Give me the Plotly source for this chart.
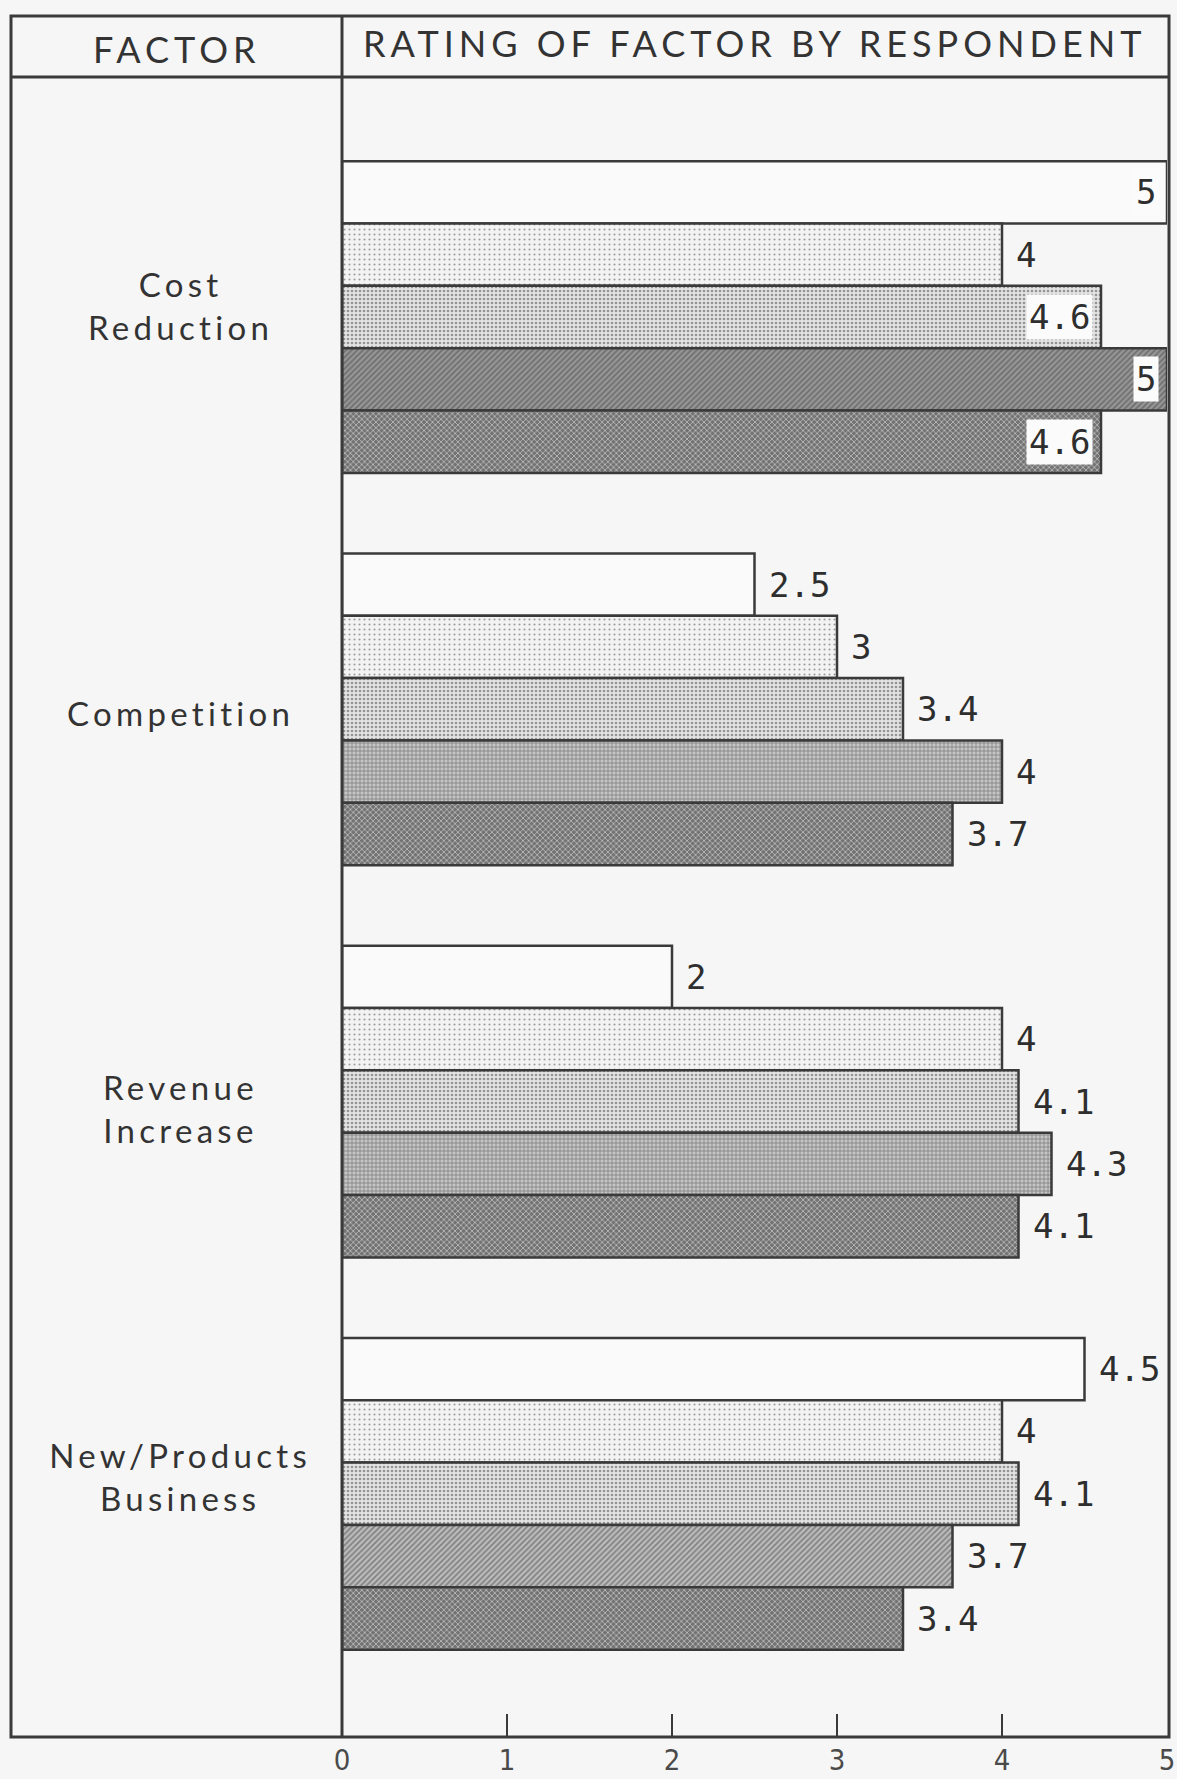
import json
import plotly.graph_objects as go

# ---- data -------------------------------------------------------------
factors = ["Cost<br>Reduction", "Competition", "Revenue<br>Increase", "New/Products<br>Business"]
respondent_names = ["Respondent 1", "Respondent 2", "Respondent 3", "Respondent 4", "Respondent 5"]
rating_r1 = [5, 2.5, 2, 4.5]
rating_r2 = [4, 3, 4, 4]
rating_r3 = [4.6, 3.4, 4.1, 4.1]
rating_r4 = [5, 4, 4.3, 3.7]
rating_r5 = [4.6, 3.7, 4.1, 3.4]
ratings = [rating_r1, rating_r2, rating_r3, rating_r4, rating_r5]
scale_ticks = [0, 1, 2, 3, 4, 5]

# ---- page geometry (pixels) -------------------------------------------
W, H = 1177, 1779
ML, MR, MT, MB = 342, 10, 77, 42
PW = W - ML - MR
PH = H - MT - MB
FRAME_L, FRAME_R, FRAME_T = 11, 1169, 16


def paper_x(p):
    return (p - ML) / PW


def paper_y(p):
    return (H - MB - p) / PH


INK = "#3a3a3a"
PAPER = "#f6f6f6"
BAR_W = 0.159          # bar thickness in group units
Y_TOP, Y_BOT = -0.612, 3.62
INSIDE_FROM = 4.6      # long bars carry their label inside the bar
LABEL_NUDGE = [12, -4, -7, 17]   # vertical tweak of factor names, px

# fill styles for the five respondents (base colour + overlaid texture)
styles = [
    dict(color=["#fafafa"] * 4, shape=[""] * 4, fg=["#fafafa"] * 4, size=4, sol=0.2),
    dict(color=["#f3f3f3"] * 4, shape=["."] * 4, fg=["#d4d4d4"] * 4, size=5, sol=0.14),
    dict(color=["#e3e3e3"] * 4, shape=["."] * 4, fg=["#959595"] * 4, size=4, sol=0.33),
    dict(color=["#969696", "#c6c6c6", "#c6c6c6", "#bbbbbb"], shape=["/", "+", "+", "/"],
         fg=["#444444", "#6a6a6a", "#6a6a6a", "#626262"], size=4, sol=0.4),
    dict(color=["#727272"] * 4, shape=["x"] * 4, fg=["#404040"] * 4, size=4, sol=0.4),
]

fig = go.Figure()
annotations = []
for j, (name, vals) in enumerate(zip(respondent_names, ratings)):
    ys = [g + (j - 2) * BAR_W for g in range(len(factors))]
    st = styles[j]
    fig.add_trace(go.Bar(
        x=vals, y=ys, orientation="h", width=BAR_W, name=name,
        marker=dict(
            color=st["color"],
            line=dict(color=INK, width=2.5),
            pattern=dict(shape=st["shape"], fgcolor=st["fg"], size=st["size"],
                         solidity=st["sol"], fillmode="overlay"),
        ),
        hoverinfo="x+name",
    ))
    for v, y in zip(vals, ys):
        inside = v >= INSIDE_FROM
        annotations.append(dict(
            x=v, y=y, xref="x", yref="y", text=f"{v:g}", showarrow=False,
            xanchor="right" if inside else "left",
            xshift=-8 if inside else 11,
            bgcolor="#fbfbfb" if inside else None,
            borderpad=2,
            font=dict(family="DejaVu Sans Mono", size=34, color="#2e2e2e"),
        ))

# spaced lettering for headings and factor names
spacing = {}
HEAD_FONT = dict(family="Lato, Open Sans, sans-serif", size=36, color="#333333")
LABEL_FONT = dict(family="Lato, Open Sans, sans-serif", size=33, color="#333333")

HEAD_SP, LABEL_SP = 5.0, 4.3
spacing[len(annotations)] = HEAD_SP
annotations.append(dict(x=paper_x(174), y=paper_y(49), xref="paper", yref="paper",
                        text="FACTOR", showarrow=False, xanchor="center", yanchor="middle",
                        xshift=HEAD_SP / 2, font=HEAD_FONT))
spacing[len(annotations)] = HEAD_SP
annotations.append(dict(x=paper_x(752), y=paper_y(43), xref="paper", yref="paper",
                        text="RATING OF FACTOR BY RESPONDENT", showarrow=False,
                        xanchor="center", yanchor="middle", xshift=HEAD_SP / 2, font=HEAD_FONT))
for g, f in enumerate(factors):
    spacing[len(annotations)] = LABEL_SP
    annotations.append(dict(x=paper_x(178), y=g, xref="paper", yref="y", text=f,
                            showarrow=False, xanchor="center", yanchor="middle", align="center",
                            xshift=LABEL_SP / 2, yshift=LABEL_NUDGE[g], font=LABEL_FONT))

# table frame
frame = dict(color=INK, width=3)
shapes = [
    dict(type="rect", xref="paper", yref="paper", x0=paper_x(FRAME_L), x1=paper_x(FRAME_R),
         y0=0, y1=paper_y(FRAME_T), line=frame, layer="above"),
    dict(type="line", xref="paper", yref="paper", x0=paper_x(FRAME_L), x1=paper_x(FRAME_R),
         y0=1, y1=1, line=frame, layer="above"),
    dict(type="line", xref="paper", yref="paper", x0=0, x1=0, y0=0, y1=paper_y(FRAME_T),
         line=frame, layer="above"),
]

fig.update_layout(
    width=W, height=H,
    margin=dict(l=ML, r=MR, t=MT, b=MB, pad=0, autoexpand=False),
    paper_bgcolor=PAPER, plot_bgcolor=PAPER,
    showlegend=False,
    barmode="overlay",
    annotations=annotations,
    shapes=shapes,
    xaxis=dict(range=[0, 5], tickvals=scale_ticks, ticktext=[str(t) for t in scale_ticks],
               ticks="inside", ticklen=23, tickwidth=2, tickcolor=INK,
               showgrid=False, zeroline=False, showline=False, automargin=False,
               ticklabelstandoff=3,
               tickfont=dict(family="Liberation Sans Narrow, DejaVu Sans Condensed, sans-serif",
                             size=29, color="#4a4a4a")),
    yaxis=dict(range=[Y_BOT, Y_TOP], visible=False, fixedrange=True, automargin=False),
)

post_js = (
    "var gd=document.getElementById('{plot_id}');"
    "var sp=" + json.dumps({str(k): v for k, v in spacing.items()}) + ";"
    "gd.querySelectorAll('g.annotation').forEach(function(a){"
    "var i=a.getAttribute('data-index');"
    "if(sp[i]!==undefined){var t=a.querySelector('text.annotation-text');"
    "if(t){t.style.letterSpacing=sp[i]+'px';}}});"
)

fig.write_html("out.html", post_script=post_js)
